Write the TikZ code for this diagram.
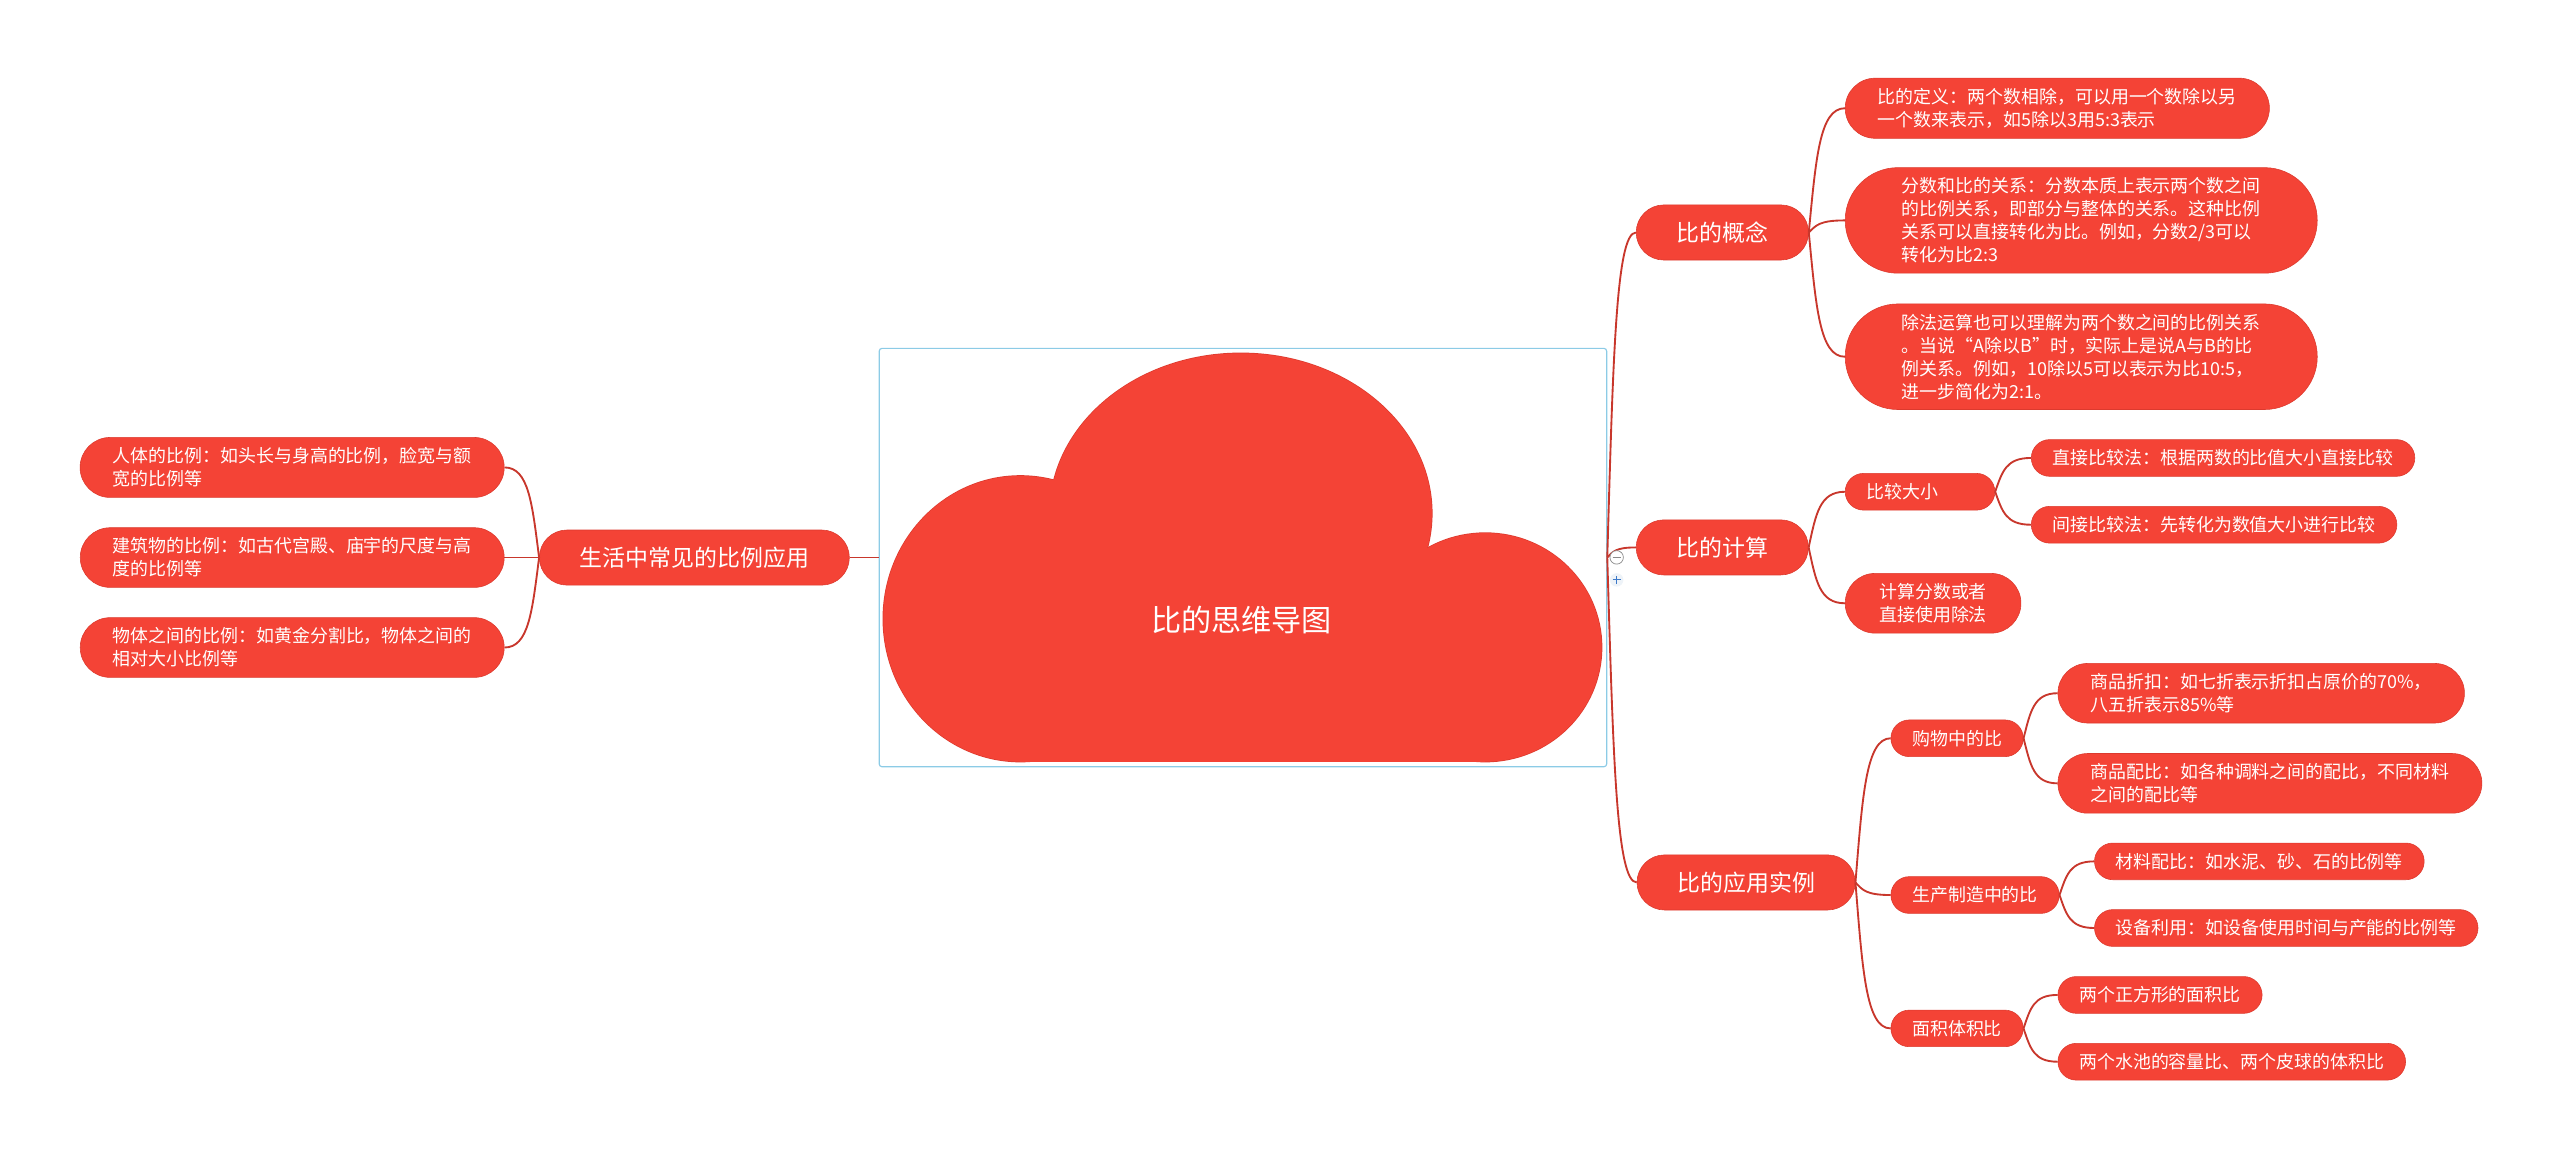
\documentclass[tikz,border=0pt]{standalone}
\usepackage{fontspec}
\setmainfont{Noto Sans CJK SC}
\usetikzlibrary{shapes.misc,calc}
\definecolor{mapred}{HTML}{F44336}
\definecolor{mapedge}{HTML}{DC3A2E}
\definecolor{maplink}{HTML}{C8372C}
\definecolor{mapblue}{HTML}{8CCBE6}
\definecolor{mapgray}{HTML}{8A8A8A}
\definecolor{plusblue}{HTML}{3C78C8}
\definecolor{plusbg}{HTML}{EEF3F8}

\tikzset{
  base/.style={rounded rectangle, fill=mapred, draw=mapedge, line width=0.4pt, text=white},
  topic/.style={base, font=\fontsize{16pt}{19pt}\selectfont, minimum height=38.4pt, inner xsep=26.5pt, inner ysep=0pt},
  subtopic/.style={base, font=\fontsize{12.5pt}{16pt}\selectfont, minimum height=25.5pt, inner xsep=13.5pt, inner ysep=7pt},
  leaf/.style={subtopic, align=left},
  tall/.style={inner xsep=17.5pt},
  taller/.style={inner xsep=24.3pt},
  link/.style={maplink, line width=1.3pt},
}

% curved connector from anchor to anchor
\newcommand\branch[2]{%
  \draw[link] let \p1=(#1), \p2=(#2) in
    (\p1) .. controls ({\x1+0.2*(\x2-\x1)},{\y1+0.6*(\y2-\y1)}) and ({\x2-0.7*(\x2-\x1)},\y2) .. (\p2);}

\begin{document}
\begin{tikzpicture}[x=0.04cm,y=-0.04cm]
  \useasboundingbox (0,0) rectangle (1568,709);

  % cloud
  \draw[mapedge,line width=1pt] (760,314.4) ellipse[x radius=117,y radius=98];
  \draw[mapedge,line width=1pt] (625,379) ellipse[x radius=84,y radius=87.5];
  \draw[mapedge,line width=1pt] (909.7,396.5) ellipse[x radius=71.3,y radius=70];
  \draw[mapedge,line width=1pt] (625,379) rectangle (909.7,466.5);
  \fill[mapred] (760,314.4) ellipse[x radius=117,y radius=98];
  \fill[mapred] (625,379) ellipse[x radius=84,y radius=87.5];
  \fill[mapred] (909.7,396.5) ellipse[x radius=71.3,y radius=70];
  \fill[mapred] (625,379) rectangle (909.7,466.5);
  \node[draw=mapblue,line width=0.8pt,rounded corners=2pt,minimum width=17.82cm,minimum height=10.25cm] (root) at (761.3,341.5) {};
  \node[font=\fontsize{21pt}{24pt}\selectfont,text=white] (title) at (760.5,379.7) {比的思维导图};

  % right side
  \node[topic,anchor=west] (gn) at (1002,142.4) {比的概念};
  \node[topic,anchor=west] (js) at (1002,335.3) {比的计算};
  \node[topic,anchor=west] (yy) at (1002.5,540.5) {比的应用实例};

  \node[leaf,tall,anchor=west] (dy) at (1130,66.3) {比的定义：两个数相除，可以用一个数除以另\\一个数来表示，如5除以3用5:3表示};
  \node[leaf,taller,anchor=west] (fs) at (1130,135) {分数和比的关系：分数本质上表示两个数之间\\的比例关系，即部分与整体的关系。这种比例\\关系可以直接转化为比。例如，分数2/3可以\\转化为比2:3};
  \node[leaf,taller,anchor=west] (cf) at (1130,218.5) {除法运算也可以理解为两个数之间的比例关系\\。当说“A除以B”时，实际上是说A与B的比\\例关系。例如，10除以5可以表示为比10:5，\\进一步简化为2:1。};

  \node[leaf,anchor=west,text width=2.62cm] (dx) at (1130,301.2) {比较大小};
  \node[leaf,anchor=west] (zj) at (1244,280.5) {直接比较法：根据两数的比值大小直接比较};
  \node[leaf,anchor=west] (jj) at (1244,321.4) {间接比较法：先转化为数值大小进行比较};
  \node[subtopic,align=center,inner xsep=18.5pt,anchor=west] (fc) at (1130,369.5) {计算分数或者\\直接使用除法};

  \node[subtopic,anchor=west] (gw) at (1158,452.2) {购物中的比};
  \node[leaf,tall,anchor=west] (zk) at (1260.3,424.6) {商品折扣：如七折表示折扣占原价的70\%，\\八五折表示85\%等};
  \node[leaf,tall,anchor=west] (pb) at (1260.3,479.8) {商品配比：如各种调料之间的配比，不同材料\\之间的配比等};
  \node[subtopic,anchor=west] (zz) at (1158,548.2) {生产制造中的比};
  \node[leaf,anchor=west] (cl) at (1282.7,527.6) {材料配比：如水泥、砂、石的比例等};
  \node[leaf,anchor=west] (sb) at (1282.7,568.4) {设备利用：如设备使用时间与产能的比例等};
  \node[subtopic,anchor=west] (mj) at (1158,629.9) {面积体积比};
  \node[leaf,anchor=west] (zf) at (1260.3,609.4) {两个正方形的面积比};
  \node[leaf,anchor=west] (sc) at (1260.3,650.3) {两个水池的容量比、两个皮球的体积比};

  % left side
  \node[topic,anchor=east] (sh) at (520.4,341.5) {生活中常见的比例应用};
  \node[leaf,tall,anchor=east] (rt) at (309,286.3) {人体的比例：如头长与身高的比例，脸宽与额\\宽的比例等};
  \node[leaf,tall,anchor=east] (jz) at (309,341.5) {建筑物的比例：如古代宫殿、庙宇的尺度与高\\度的比例等};
  \node[leaf,tall,anchor=east] (wt) at (309,396.6) {物体之间的比例：如黄金分割比，物体之间的\\相对大小比例等};

  % connectors
  \branch{root.east}{gn.west}
  \branch{root.east}{js.west}
  \branch{root.east}{yy.west}
  \branch{root.west}{sh.east}
  \foreach \kid in {dy,fs,cf} {\branch{gn.east}{\kid.west}}
  \foreach \kid in {dx,fc} {\branch{js.east}{\kid.west}}
  \foreach \kid in {zj,jj} {\branch{dx.east}{\kid.west}}
  \foreach \kid in {gw,zz,mj} {\branch{yy.east}{\kid.west}}
  \foreach \kid in {zk,pb} {\branch{gw.east}{\kid.west}}
  \foreach \kid in {cl,sb} {\branch{zz.east}{\kid.west}}
  \foreach \kid in {zf,sc} {\branch{mj.east}{\kid.west}}
  \foreach \kid in {rt,jz,wt} {\branch{sh.west}{\kid.east}}

  % fold buttons
  \node[circle,draw=mapgray,fill=white,line width=0.5pt,minimum size=0.33cm,inner sep=0pt] (fold) at (990.2,341.4) {};
  \draw[mapgray,line width=0.6pt] ([xshift=-0.1cm]fold.center) -- ([xshift=0.1cm]fold.center);
  \node[circle,fill=plusbg,minimum size=0.33cm,inner sep=0pt] (unfold) at (990.2,355.2) {};
  \draw[plusblue,line width=0.6pt] ([xshift=-0.1cm]unfold.center) -- ([xshift=0.1cm]unfold.center)
    ([yshift=-0.1cm]unfold.center) -- ([yshift=0.1cm]unfold.center);
\end{tikzpicture}
\end{document}
